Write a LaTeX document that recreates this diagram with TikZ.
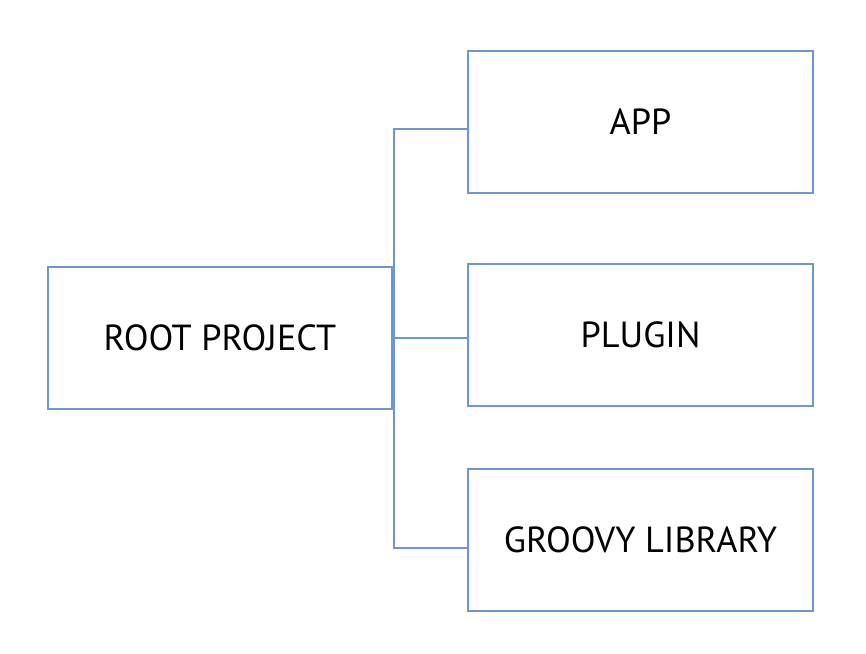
\documentclass[tikz,border=0pt]{standalone}
\usepackage{fontspec}
\setmainfont{PT Sans}
\usepackage{tikz}

\definecolor{boxblue}{RGB}{108,150,212}

\begin{document}
\begin{tikzpicture}[x=0.75pt, y=-0.75pt,
	box/.style={draw=boxblue, line width=1.4pt, minimum width=258.5pt, minimum height=106.5pt, inner sep=0pt, font=\fontsize{27.2}{32}\selectfont},
	link/.style={draw=boxblue, line width=1.4pt}]
	
	\useasboundingbox (0,0) rectangle (866,653);
	
	\node [box] (root) at (220,338) {ROOT PROJECT};
	\node [box] (app) at (640.5,122) {APP};
	\node [box] (plugin) at (640.5,335) {PLUGIN};
	\node [box] (groovy) at (640.5,540) {GROOVY LIBRARY};
	
	\coordinate (topjoin) at (394,129);
	\coordinate (lowjoin) at (394,548);
	\draw [link] (app.west |- topjoin) -- (topjoin) -- (lowjoin) -- (groovy.west |- lowjoin);
	\draw [link] (root.east) -- (plugin.west |- root.east);
	\end{tikzpicture}
\end{document}
